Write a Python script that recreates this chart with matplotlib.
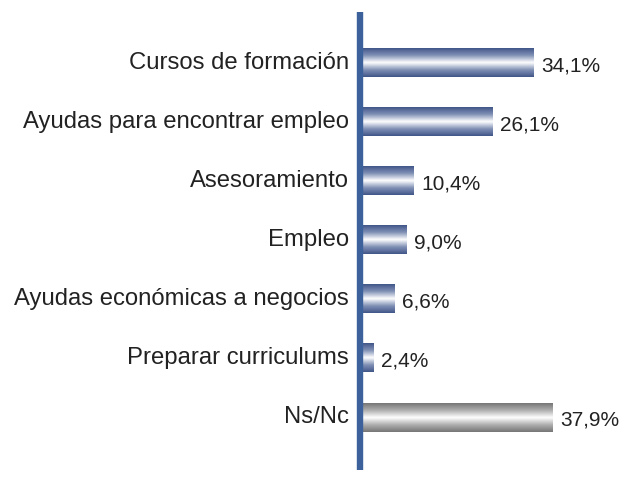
import numpy as np
import matplotlib

matplotlib.use("Agg")
import matplotlib.pyplot as plt
from matplotlib.colors import LinearSegmentedColormap

categories = [
    "Cursos de formación",
    "Ayudas para encontrar empleo",
    "Asesoramiento",
    "Empleo",
    "Ayudas económicas a negocios",
    "Preparar curriculums",
    "Ns/Nc",
]
values = [34.1, 26.1, 10.4, 9.0, 6.6, 2.4, 37.9]
labels = ["34,1%", "26,1%", "10,4%", "9,0%", "6,6%", "2,4%", "37,9%"]

plt.rcParams["font.family"] = ["Liberation Sans", "DejaVu Sans"]

W, H = 624, 478
fig = plt.figure(figsize=(W / 100, H / 100), dpi=100)
# axes spans the blue axis line: from y=12 to y=470 px
ax = fig.add_axes([361 / W, 8 / H, 263 / W, 458 / H])
ax.set_xlim(0, 263 / 5.05)
ax.set_ylim(6.89, -0.86)
ax.axis("off")

blue = LinearSegmentedColormap.from_list(
    "b", ["#42578a", "#8292b6", "#ffffff", "#8292b6", "#42578a"])
gray = LinearSegmentedColormap.from_list(
    "g", ["#777777", "#b0b0b0", "#ffffff", "#b0b0b0", "#777777"])
grad = np.linspace(0, 1, 64).reshape(-1, 1)
h = 0.48

for i, (cat, v, lab) in enumerate(zip(categories, values, labels)):
    cmap = gray if cat == "Ns/Nc" else blue
    ax.imshow(grad, cmap=cmap, aspect="auto", interpolation="bilinear",
              extent=(0, v, i + h / 2, i - h / 2), zorder=2)
    ax.text(v + 1.5, i + 0.05, lab, va="center", ha="left", fontsize=15,
            color="#222222")
    ax.text(-2.4, i, cat, va="center", ha="right", fontsize=17.2,
            color="#222222")

ax.plot([-0.1, -0.1], [-0.86, 6.89], color="#3d619b", lw=4.6,
        solid_capstyle="butt", zorder=3, clip_on=False)

fig.savefig("out.png", dpi=100)
